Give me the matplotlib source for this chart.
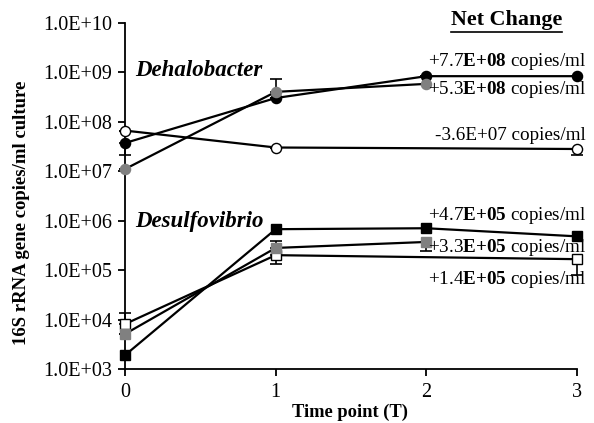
import matplotlib
matplotlib.use("Agg")
import matplotlib.pyplot as plt
import numpy as np

plt.rcParams['font.family'] = ['Liberation Serif', 'DejaVu Serif']
plt.rcParams['mathtext.fontset'] = 'custom'
plt.rcParams['mathtext.rm'] = 'Liberation Serif'
plt.rcParams['mathtext.bf'] = 'Liberation Serif:bold'
plt.rcParams['mathtext.it'] = 'Liberation Serif:italic'

# ---- data ----
time_full = [0, 1, 2, 3]
time_no2 = [0, 1, 3]
time_to2 = [0, 1, 2]

deh_black = [3.7e7, 3.0e8, 8.3e8, 8.3e8]
deh_black_lo = [1.55e7, 0, 0, 0]
deh_black_hi = [0, 0, 0, 0]

deh_gray = [1.1e7, 4.0e8, 5.8e8]
deh_gray_lo = [0, 0, 0]
deh_gray_hi = [0, 3.4e8, 0]

deh_white = [6.6e7, 3.0e7, 2.8e7]
deh_white_lo = [0, 0, 0.7e7]
deh_white_hi = [0, 0, 0]

des_black = [1.9e3, 6.7e5, 7.0e5, 4.8e5]

des_gray = [5.1e3, 2.8e5, 3.7e5]
des_gray_lo = [0, 0, 1.3e5]
des_gray_hi = [0, 1.1e5, 0]

des_white = [8.1e3, 2.0e5, 1.66e5]
des_white_lo = [0, 0.7e5, 0.86e5]
des_white_hi = [5.4e3, 0, 0]

ytick_vals = [1e3, 1e4, 1e5, 1e6, 1e7, 1e8, 1e9, 1e10]
ytick_labels = ["1.0E+03", "1.0E+04", "1.0E+05", "1.0E+06",
                "1.0E+07", "1.0E+08", "1.0E+09", "1.0E+10"]
xtick_vals = [0, 1, 2, 3]

net_labels = [r"+7.7$\mathbf{E{+}08}$ copies/ml",
              r"+5.3$\mathbf{E{+}08}$ copies/ml",
              r"-3.6E+07 copies/ml",
              r"+4.7$\mathbf{E{+}05}$ copies/ml",
              r"+3.3$\mathbf{E{+}05}$ copies/ml",
              r"+1.4$\mathbf{E{+}05}$ copies/ml"]

W, H = 594, 423
fig = plt.figure(figsize=(W / 100, H / 100), dpi=100)
ax = fig.add_axes([125 / W, 1 - 369 / H, (577 - 125) / W, (369 - 22.7) / H])

gray = '#808080'
lw = 1.6
ms_c = 7.3
ms_s = 7.3

def series(x, y, lo, hi, marker, face, ms):
    if lo is not None:
        ax.errorbar(x, y, yerr=[lo, hi], fmt='none', ecolor='black',
                    elinewidth=1.2, capsize=4.5, capthick=1.2, clip_on=False, zorder=2)
    ax.plot(x, y, color='black', lw=lw, marker=marker, ms=ms,
            markerfacecolor=face, markeredgecolor='black' if face != gray else gray,
            markeredgewidth=1.0, clip_on=False, zorder=3)

series(time_no2, deh_white, deh_white_lo, deh_white_hi, 'o', 'white', ms_c)
series(time_full, deh_black, deh_black_lo, deh_black_hi, 'o', 'black', ms_c)
series(time_to2, deh_gray, deh_gray_lo, deh_gray_hi, 'o', gray, ms_c)

series(time_no2, des_white, des_white_lo, des_white_hi, 's', 'white', ms_s)
series(time_full, des_black, None, None, 's', 'black', ms_s)
series(time_to2, des_gray, des_gray_lo, des_gray_hi, 's', gray, ms_s)

ax.set_yscale('log')
ax.set_ylim(1e3, 1e10)
ax.set_xlim(0, 3)
ax.set_yticks(ytick_vals)
ax.set_yticklabels(ytick_labels)
ax.minorticks_off()
ax.set_xticks(xtick_vals)
ax.set_xticklabels([str(v) for v in xtick_vals])
for s in ['top', 'right']:
    ax.spines[s].set_visible(False)
for s in ['left', 'bottom']:
    ax.spines[s].set_linewidth(1.3)
ax.tick_params(axis='y', direction='out', length=5, width=1.3, labelsize=14.5, pad=4)
ax.tick_params(axis='x', direction='out', length=5, width=1.3, labelsize=14.5, pad=5)
ax.set_facecolor('none')

# y label and x label
fig.text(22 / W, 1 - 213 / H, "16S rRNA gene copies/ml culture", rotation=90,
         ha='center', va='center', fontsize=13.5, fontweight='bold')
fig.text(350 / W, 1 - 412 / H, "Time point (T)", ha='center', va='center',
         fontsize=13.3, fontweight='bold')

# genus labels
fig.text(135 / W, 1 - 70 / H, "Dehalobacter", ha='left', va='center',
         fontsize=16.5, fontweight='bold', fontstyle='italic')
fig.text(135 / W, 1 - 221 / H, "Desulfovibrio", ha='left', va='center',
         fontsize=16.5, fontweight='bold', fontstyle='italic')

# Net change header
fig.text(507 / W, 1 - 20 / H, "Net Change", ha='center', va='center',
         fontsize=15.8, fontweight='bold')
fig.add_artist(plt.Line2D([451 / W, 562 / W], [1 - 32 / H, 1 - 32 / H],
                          color='black', lw=1.2))

label_y = [61, 89, 135, 215, 248, 279]
for lab, yy in zip(net_labels, label_y):
    fig.text(586 / W, 1 - yy / H, lab, ha='right', va='center', fontsize=13.8)

fig.savefig("out.png", dpi=100)
